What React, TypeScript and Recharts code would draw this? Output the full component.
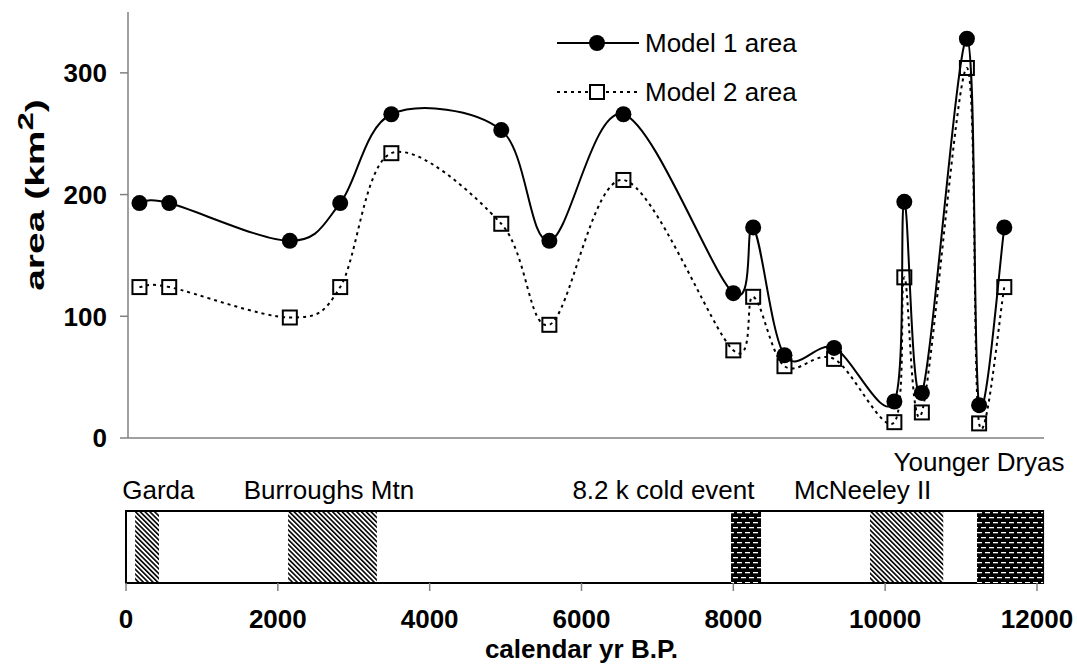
import React from 'react'
import {
  ComposedChart,
  Legend,
  Line,
  LineChart,
  ReferenceArea,
  ReferenceDot,
  XAxis,
  YAxis,
} from 'recharts'

// calendar years (B.P.) of each reconstruction
const years = [150, 540, 2120, 2780, 3450, 4890, 5520, 6490, 7930, 8190, 8600, 9250, 10040, 10170, 10400, 10990, 11150, 11480]
const model1 = [193, 193, 162, 193, 266, 253, 162, 266, 119, 173, 68, 74, 30, 194, 37, 328, 27, 173]
const model2 = [124, 124, 99, 124, 234, 176, 93, 212, 72, 116, 59, 65, 13, 132, 21, 304, 12, 124]

const xTicks = [0, 2000, 4000, 6000, 8000, 10000, 12000]
const yTicks = [0, 100, 200, 300]

// climate events shown in the lower panel
const periods = [
  { name: 'Garda', start: 120, end: 435, fill: 'hatch' },
  { name: 'Burroughs Mtn', start: 2135, end: 3305, fill: 'hatch' },
  { name: '8.2 k cold event', start: 7970, end: 8365, fill: 'brick' },
  { name: 'McNeeley II', start: 9800, end: 10765, fill: 'hatch' },
  { name: 'Younger Dryas', start: 11210, end: 12080, fill: 'brick' },
]
const recordSpan = [0, 12080]

// where each period label starts (yr) and its row above the box
const eventLabels = [
  { text: 'Garda', yr: -50, row: 1.29 },
  { text: 'Burroughs Mtn', yr: 1550, row: 1.29 },
  { text: '8.2 k cold event', yr: 5880, row: 1.29 },
  { text: 'McNeeley II', yr: 8800, row: 1.29 },
  { text: 'Younger Dryas', yr: 10110, row: 1.68 },
]

const FONT = "Arial, 'Liberation Sans', sans-serif"
const AXIS_GREY = '#808080'
const FS = 26

const data = years.map((yr, i) => ({ yr, m1: model1[i], m2: model2[i] }))

// Excel-like smoothed line (Catmull-Rom through the points)
const smooth = (context: any) => {
  let pts: number[][] = []
  return {
    areaStart() {},
    areaEnd() {},
    lineStart() {
      pts = []
    },
    point(x: number, y: number) {
      pts.push([+x, +y])
    },
    lineEnd() {
      if (!pts.length) return
      context.moveTo(pts[0][0], pts[0][1])
      for (let i = 0; i < pts.length - 1; i++) {
        const p0 = pts[i - 1] || pts[i]
        const p1 = pts[i]
        const p2 = pts[i + 1]
        const p3 = pts[i + 2] || p2
        context.bezierCurveTo(
          p1[0] + (p2[0] - p0[0]) / 6,
          p1[1] + (p2[1] - p0[1]) / 6,
          p2[0] - (p3[0] - p1[0]) / 6,
          p2[1] - (p3[1] - p1[1]) / 6,
          p2[0],
          p2[1]
        )
      }
    },
  }
}

const SquareDot = (props: any) => {
  const { cx, cy, index } = props
  if (cx == null || cy == null) return <g key={index} />
  return (
    <rect key={index} x={cx - 7} y={cy - 7} width={14} height={14} fill="none" stroke="#000" strokeWidth={2} strokeDasharray="none" />
  )
}

const LegendBox = () => (
  <svg width={320} height={90} style={{ fontFamily: FONT, overflow: 'visible' }}>
    <line x1={0} y1={21} x2={82} y2={21} stroke="#000" strokeWidth={2} />
    <circle cx={40} cy={21} r={8} fill="#000" />
    <text x={88} y={30} fontSize={FS}>Model 1 area</text>
    <line x1={0} y1={70} x2={82} y2={70} stroke="#000" strokeWidth={2} strokeDasharray="3 4" />
    <rect x={33} y={63} width={14} height={14} fill="#fff" stroke="#000" strokeWidth={2} />
    <text x={88} y={79} fontSize={FS}>Model 2 area</text>
  </svg>
)

// rotated axis title; the original is stretched along its baseline
const AreaLabel = (props: any) => {
  const vb = props.viewBox || { x: 0, y: 0, width: 0, height: 0 }
  const x = vb.x - 24
  const y = vb.y + vb.height / 2 - 30
  return (
    <g transform={`translate(${x}, ${y}) rotate(-90) scale(1.5, 1)`}>
      <text x={0} y={0} textAnchor="middle" fontWeight="bold" fontSize={26} fontFamily={FONT} fill="#000">
        area (km<tspan dy={-11} fontSize={22}>2</tspan>
        <tspan dy={11}>)</tspan>
      </text>
    </g>
  )
}

export default function App() {
  return (
    <div style={{ position: 'absolute', left: 0, top: 0, width: 1077, height: 666, background: '#fff', fontFamily: FONT }}>
      <div style={{ position: 'absolute', left: 0, top: 0 }}>
        <LineChart width={1077} height={460} data={data} margin={{ top: 12, right: 33, bottom: 2, left: 68 }}>
          <XAxis
            dataKey="yr"
            type="number"
            domain={[0, 12000]}
            ticks={xTicks}
            tick={false}
            tickSize={8}
            height={20}
            axisLine={{ stroke: AXIS_GREY, strokeWidth: 1.5 }}
            tickLine={{ stroke: AXIS_GREY, strokeWidth: 1.5 }}
          />
          <YAxis
            type="number"
            domain={[0, 350]}
            ticks={yTicks}
            width={60}
            tickSize={8}
            tickMargin={13}
            axisLine={{ stroke: AXIS_GREY, strokeWidth: 1.5 }}
            tickLine={{ stroke: AXIS_GREY, strokeWidth: 1.5 }}
            tick={{ fill: '#000', fontSize: FS, fontWeight: 'bold', fontFamily: FONT }}
            label={<AreaLabel />}
          />
          <Legend
            layout="horizontal"
            verticalAlign="middle"
            align="center"
            content={<LegendBox />}
            wrapperStyle={{ left: 557, top: 22, width: 320, height: 90 }}
          />
          <Line
            dataKey="m2"
            type={smooth as any}
            stroke="#000"
            strokeWidth={2}
            strokeDasharray="3 4"
            dot={SquareDot}
            activeDot={false}
            isAnimationActive={false}
          />
          <Line
            dataKey="m1"
            type={smooth as any}
            stroke="#000"
            strokeWidth={2}
            dot={{ r: 8, fill: '#000', stroke: '#000', strokeWidth: 0 }}
            activeDot={false}
            isAnimationActive={false}
          />
        </LineChart>
      </div>
      <div style={{ position: 'absolute', left: 0, top: 440 }}>
        <ComposedChart width={1077} height={226} data={periods} margin={{ top: 71, right: 40, bottom: 11, left: 126 }}>
          <defs>
            <pattern id="hatch" patternUnits="userSpaceOnUse" width={3.4} height={3.4} patternTransform="rotate(-45)">
              <rect x={0} y={0} width={1.6} height={3.4} fill="#000" />
            </pattern>
            <pattern id="brick" patternUnits="userSpaceOnUse" width={8} height={10}>
              <rect x={0} y={0} width={8} height={10} fill="#000" />
              <rect x={1} y={2} width={5} height={1.3} fill="#fff" />
              <rect x={5} y={7} width={5} height={1.3} fill="#fff" />
              <rect x={-3} y={7} width={5} height={1.3} fill="#fff" />
            </pattern>
          </defs>
          <XAxis
            dataKey="start"
            type="number"
            domain={[0, 12000]}
            allowDataOverflow
            ticks={xTicks}
            interval={0}
            height={72}
            tickSize={8}
            tickMargin={19}
            axisLine={false}
            tickLine={{ stroke: AXIS_GREY, strokeWidth: 1.5 }}
            tick={{ fill: '#000', fontSize: FS, fontWeight: 'bold', fontFamily: FONT }}
            label={{
              value: 'calendar yr B.P.',
              position: 'insideBottom',
              offset: -3,
              fill: '#000',
              fontSize: FS,
              fontWeight: 'bold',
              fontFamily: FONT,
            }}
          />
          <YAxis type="number" domain={[0, 1]} allowDataOverflow hide />
          <ReferenceArea
            x1={recordSpan[0]}
            x2={recordSpan[1]}
            y1={0}
            y2={1}
            fill="#fff"
            fillOpacity={1}
            stroke="#000"
            strokeWidth={2}
            ifOverflow="visible"
          />
          {periods.map((p) => (
            <ReferenceArea
              key={p.name}
              x1={p.start}
              x2={p.end}
              y1={0}
              y2={1}
              fill={`url(#${p.fill})`}
              fillOpacity={1}
              stroke="none"
              ifOverflow="visible"
            />
          ))}
          {eventLabels.map((l) => (
            <ReferenceDot
              key={l.text}
              x={l.yr}
              y={l.row}
              r={0}
              stroke="none"
              fill="none"
              ifOverflow="visible"
              label={{ value: l.text, position: 'right', offset: 0, fontSize: FS, fill: '#000', fontFamily: FONT }}
            />
          ))}
        </ComposedChart>
      </div>
    </div>
  )
}
